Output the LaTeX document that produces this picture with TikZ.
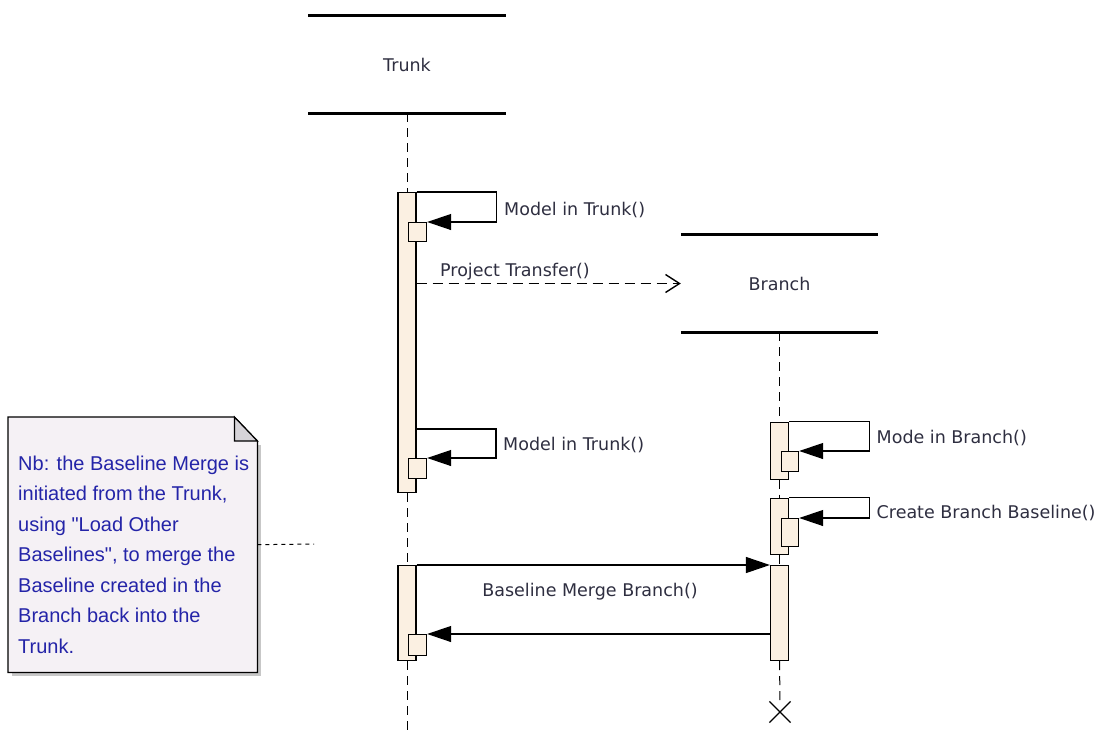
\documentclass[tikz,border=0pt]{standalone}
\usepackage{fontspec}
\setmainfont{DejaVu Sans}
\newfontfamily\notefont{Liberation Sans}
\usetikzlibrary{arrows.meta,shapes.misc}
\definecolor{barfill}{HTML}{FBF0E2}
\definecolor{notefill}{HTML}{F5F1F5}
\definecolor{notefold}{HTML}{D6D3D8}
\definecolor{noteink}{HTML}{2424A8}
\definecolor{msgink}{HTML}{2E2E40}

\begin{document}
\begin{tikzpicture}[x=1pt, y=-1pt,
  header/.style={minimum width=197pt, minimum height=97pt, inner sep=0pt, text=msgink, font=\fontsize{17.5}{21}\selectfont},
  headline/.style={line width=3pt},
  lifeline/.style={line width=1pt, dash pattern=on 9pt off 6pt},
  bar/.style={draw, line width=1.2pt, fill=barfill, minimum width=18pt, inner sep=0pt, anchor=north},
  callbox/.style={draw, line width=1.2pt, fill=barfill, minimum width=18pt, inner sep=0pt, anchor=north west},
  call/.style={line width=1.2pt, -{Triangle[length=24pt, width=16pt]}},
  reply/.style={line width=1.2pt, dash pattern=on 10pt off 6pt, -{Straight Barb[length=14pt, width=18pt, line width=1.4pt]}},
  lbl/.style={anchor=base west, inner sep=0pt, text=msgink, font=\fontsize{17.5}{21}\selectfont}]
\useasboundingbox (0,0) rectangle (1103,734);

\node[header] (trunk) at (407,64.5) {Trunk};
\node[header] (branch) at (779.5,283.5) {Branch};
\draw[headline] (trunk.north west) -- (trunk.north east);
\draw[headline] (trunk.south west) -- (trunk.south east);
\draw[headline] (branch.north west) -- (branch.north east);
\draw[headline] (branch.south west) -- (branch.south east);

\node[bar, minimum height=300pt] (tbar1) at (407,192) {};
\node[bar, minimum height=95pt] (tbar2) at (407,565) {};
\node[bar, minimum height=57pt] (bbar1) at (779.5,421.5) {};
\node[bar, minimum height=56pt] (bbar2) at (779.5,497.5) {};
\node[bar, minimum height=95pt] (bbar3) at (779.5,565) {};
\node[cross out, draw, line width=1.2pt, minimum size=20pt] (bend) at (780,712) {};
\coordinate (tend) at (407,734);

\draw[lifeline] (trunk.south) -- (tbar1.north);
\draw[lifeline] (tbar1.south) -- (tbar2.north);
\draw[lifeline] (tbar2.south) -- (tend);
\draw[lifeline] (branch.south) -- (bbar1.north);
\draw[lifeline] (bbar1.south) -- (bbar2.north);
\draw[lifeline] (bbar2.south) -- (bbar3.north);
\draw[lifeline] (bbar3.south) -- (bend.north);

\node[callbox, minimum height=19pt] (tbox1) at (408,222) {};
\node[callbox, minimum height=20pt] (tbox2) at (408,458) {};
\node[callbox, minimum height=21pt] (tbox3) at (408,634) {};
\node[callbox, minimum width=17pt, minimum height=20pt] (bbox1) at (781,451) {};
\node[callbox, minimum width=17pt, minimum height=28pt] (bbox2) at (781,518) {};

\coordinate (tcall2) at (416,429);
\draw[call] (tbar1.north east) -- ++(80,0) |- (tbox1.north east);
\draw[call] (tcall2) -- ++(80,0) |- (tbox2.north east);
\draw[call] (bbar1.north east) -- ++(80,0) |- (bbox1.north east);
\draw[call] (bbar2.north east) -- ++(80,0) |- (bbox2.north east);
\draw[reply] (tbar1.east |- branch.west) -- (branch.west);
\draw[call] (tbar2.north east) -- (bbar3.north west);
\draw[call] (bbar3.west |- tbox3.north) -- (tbox3.north east);

\node[lbl] (m1) at (504,215) {Model in Trunk()};
\node[lbl] (m2) at (440,276.5) {Project Transfer()};
\node[lbl] (m3) at (503,450) {Model in Trunk()};
\node[lbl] (m4) at (876.5,443) {Mode in Branch()};
\node[lbl] (m5) at (876.5,518) {Create Branch Baseline()};
\node[lbl, anchor=base] (m6) at (590,596.5) {Baseline Merge Branch()};

\node[minimum width=249pt, minimum height=255pt, inner sep=0pt, anchor=north west] (note) at (8,417) {};
\fill[black!22] ([shift={(4pt,-4pt)}]note.south west) rectangle ([shift={(4pt,-28pt)}]note.north east);
\draw[fill=notefill, line width=1.2pt] (note.north west) -- ([xshift=-23pt]note.north east) -- ([yshift=-24pt]note.north east) -- (note.south east) -- (note.south west) -- cycle;
\draw[fill=notefold, line width=1.2pt] ([xshift=-23pt]note.north east) -- ([xshift=-23pt, yshift=-24pt]note.north east) -- ([yshift=-24pt]note.north east) -- cycle;
\node[anchor=base west, inner sep=0pt, align=left, text=noteink, font=\notefont\fontsize{20}{30.5}\selectfont] (nb) at (18,653)
  {Nb: the Baseline Merge is\\initiated from the Trunk,\\using "Load Other\\Baselines", to merge the\\Baseline created in the\\Branch back into the\\Trunk.};
\coordinate (noteend) at (314,544);
\draw[line width=1pt, dash pattern=on 4pt off 4pt] (note.east) -- (noteend);
\end{tikzpicture}
\end{document}
